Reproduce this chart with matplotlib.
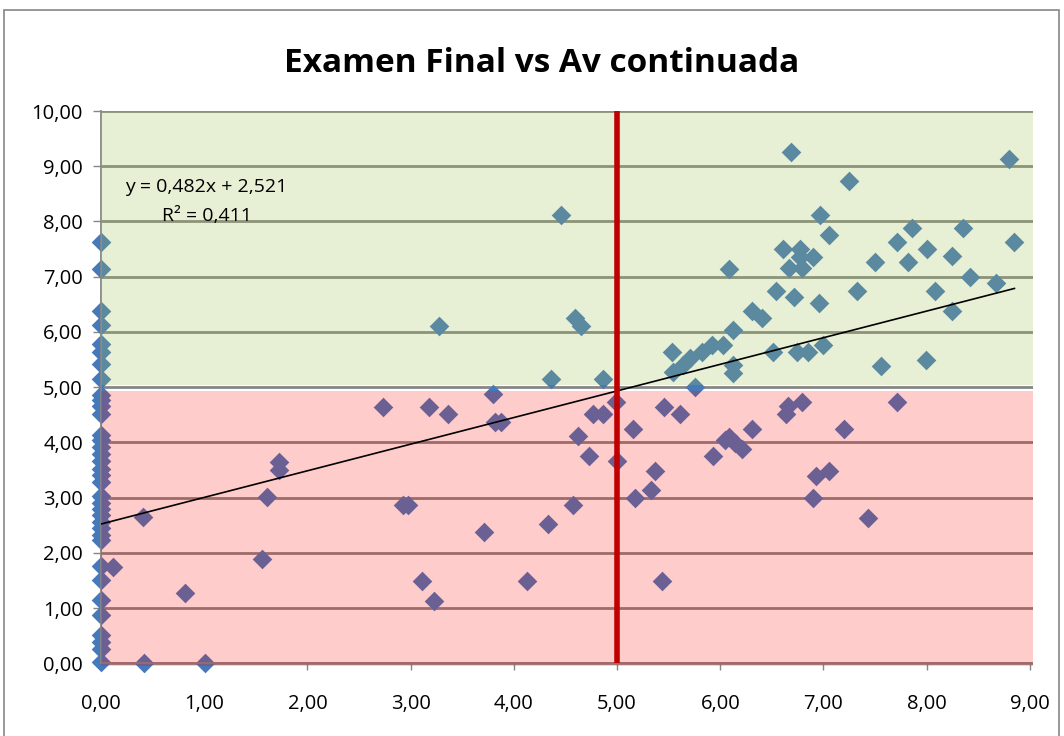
import numpy as np
import matplotlib
matplotlib.use("Agg")
import matplotlib.pyplot as plt
from matplotlib.patches import Rectangle

# students with 0 in continuous assessment
x_zero = [0.0] * 36
y_zero = [7.63, 7.14, 6.38, 6.12, 5.78, 5.63, 5.42, 5.14, 4.86, 4.76, 4.66, 4.52,
          4.13, 4.04, 3.92, 3.79, 3.66, 3.52, 3.40, 3.28, 3.02, 2.90, 2.80, 2.68,
          2.56, 2.45, 2.33, 2.24, 1.76, 1.50, 1.14, 0.88, 0.52, 0.38, 0.25, 0.02]

# Av continuada
x_rest = [0.41, 0.12, 0.81, 0.42, 1.01, 1.56, 1.61, 1.72, 1.72, 2.73, 2.93, 2.97,
          3.11, 3.18, 3.23, 3.27, 3.36, 3.71, 3.80, 3.82, 3.88, 4.13, 4.33, 4.36,
          4.46, 4.57, 4.59, 4.62, 4.65, 4.73, 4.77, 4.86, 4.86, 4.99, 5.00, 5.15,
          5.17, 5.33, 5.37, 5.44, 5.45, 5.53, 5.54, 5.61, 5.64, 5.71, 5.76, 5.82,
          5.92, 5.93, 6.03, 6.05, 6.08, 6.08, 6.12, 6.12, 6.12, 6.14, 6.21, 6.31,
          6.31, 6.40, 6.51, 6.54, 6.61, 6.64, 6.66, 6.67, 6.69, 6.71, 6.74, 6.77,
          6.77, 6.79, 6.79, 6.85, 6.90, 6.90, 6.93, 6.96, 6.97, 7.00, 7.05, 7.05,
          7.20, 7.25, 7.32, 7.43, 7.50, 7.56, 7.71, 7.71, 7.82, 7.86, 7.99, 8.00,
          8.08, 8.25, 8.25, 8.35, 8.42, 8.67, 8.80, 8.85]
# Examen final
y_rest = [2.65, 1.74, 1.27, 0.00, 0.00, 1.88, 3.01, 3.64, 3.50, 4.64, 2.87, 2.87,
          1.49, 4.64, 1.12, 6.11, 4.51, 2.37, 4.87, 4.37, 4.37, 1.49, 2.52, 5.14,
          8.12, 2.86, 6.25, 4.11, 6.10, 3.75, 4.51, 4.51, 5.14, 4.73, 3.66, 4.24,
          2.99, 3.13, 3.48, 1.49, 4.64, 5.63, 5.27, 4.51, 5.40, 5.52, 5.00, 5.63,
          5.76, 3.75, 5.76, 4.04, 4.10, 7.14, 6.03, 5.40, 5.25, 3.98, 3.88, 4.24,
          6.38, 6.25, 5.63, 6.74, 7.50, 4.51, 4.66, 7.16, 9.26, 6.63, 5.63, 7.50,
          7.36, 7.16, 4.73, 5.63, 7.36, 2.99, 3.39, 6.52, 8.12, 5.76, 7.75, 3.48,
          4.24, 8.73, 6.74, 2.63, 7.26, 5.38, 7.63, 4.73, 7.26, 7.88, 5.50, 7.50,
          6.74, 7.37, 6.38, 7.88, 6.99, 6.88, 9.13, 7.63]

x = np.array(x_zero + x_rest)
y = np.array(y_zero + y_rest)

slope = 0.482
intercept = 2.521
r2 = 0.411
pass_mark = 5.0

x_ticks = np.arange(0, 10)
y_ticks = np.arange(0, 11)


def fmt(v):
    return "{:.2f}".format(v).replace(".", ",")


plt.rcParams['font.family'] = ['Open Sans', 'DejaVu Sans']

fig = plt.figure(figsize=(10.64, 7.36), dpi=100)
W, H = 1064.0, 736.0
ax = fig.add_axes([101 / W, (H - 666) / H, (1033 - 101) / W, (666 - 111) / H])
ax.set_xlim(0, 9.03)
ax.set_ylim(-0.05, 10)

grey = '#868686'
for s in ['top', 'right']:
    ax.spines[s].set_visible(False)
ax.spines['left'].set_bounds(0, 10)
ax.spines['left'].set_color(grey)
ax.spines['left'].set_linewidth(1.3)
ax.spines['bottom'].set_position(('data', 0))
ax.spines['bottom'].set_bounds(0, 9)
ax.spines['bottom'].set_color(grey)
ax.spines['bottom'].set_linewidth(1.3)

ax.set_xticks(x_ticks)
ax.set_yticks(y_ticks)
ax.set_xticklabels([fmt(v) for v in x_ticks])
ax.set_yticklabels([fmt(v) for v in y_ticks])
ax.tick_params(axis='x', length=5, width=1, color=grey, pad=17, labelsize=14.5, labelcolor='black')
ax.tick_params(axis='y', length=6, width=1, color=grey, pad=7, labelsize=14.5, labelcolor='black')

ax.set_axisbelow(True)
ax.grid(axis='y', color=grey, lw=2)

ax.scatter(x, y, marker='D', s=100, color='#4679BA', linewidths=0, zorder=2, clip_on=False)

# pass / fail bands drawn over the points
ax.add_patch(Rectangle((0, 5.03), 9.03, 4.97, facecolor=(155 / 255, 190 / 255, 80 / 255),
                       alpha=0.24, lw=0, zorder=3))
ax.add_patch(Rectangle((0, -0.05), 9.03, 4.98, facecolor=(1, 0, 0), alpha=0.2, lw=0, zorder=3))

xs = np.array([0, x.max()])
ax.plot(xs, slope * xs + intercept, color='black', lw=1.2, zorder=4)
ax.vlines(pass_mark, 0, 10, color='#C00000', lw=4, zorder=5)

fig.text(542 / W, 1 - 72 / H, "Examen Final vs Av continuada", ha='center', va='baseline',
         fontsize=24, fontweight='bold')
fig.text(206 / W, 1 - 192 / H, "y = {}x + {}".format(str(slope).replace('.', ','), str(intercept).replace('.', ',')),
         ha='center', va='baseline', fontsize=14)
fig.text(207 / W, 1 - 221 / H, "R² = {}".format(str(r2).replace('.', ',')),
         ha='center', va='baseline', fontsize=14)

fig.patches.append(Rectangle((4 / W, -0.01), (1059 - 4) / W, 1 - 10 / H - (-0.01), transform=fig.transFigure,
                             fill=False, edgecolor=grey, lw=1.2))

fig.savefig("out.png", dpi=100)
